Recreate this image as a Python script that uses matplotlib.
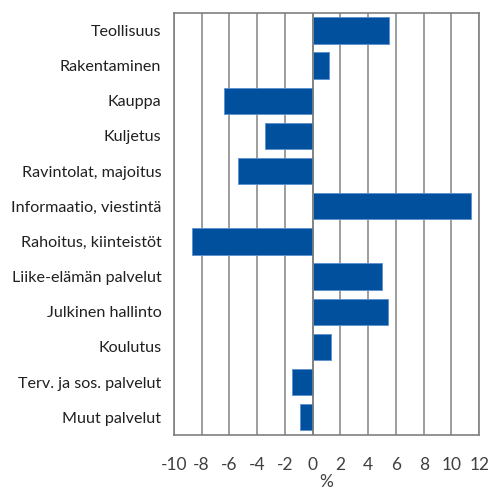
import matplotlib.pyplot as plt
import numpy as np

categories = ['Teollisuus', 'Rakentaminen', 'Kauppa', 'Kuljetus', 'Ravintolat, majoitus',
              'Informaatio, viestintä', 'Rahoitus, kiinteistöt', 'Liike-elämän palvelut',
              'Julkinen hallinto', 'Koulutus', 'Terv. ja sos. palvelut', 'Muut palvelut']
values = [5.5, 1.2, -6.4, -3.4, -5.4, 11.4, -8.7, 5.0, 5.4, 1.3, -1.5, -0.9]
xticks = list(range(-10, 13, 2))

plt.rcParams['font.family'] = ['Lato', 'DejaVu Sans']

fig = plt.figure(figsize=(4.91, 4.93), dpi=100)
ax = fig.add_axes([0.354, 0.118, 0.622, 0.856])

y = np.arange(len(categories))
ax.barh(y, values, height=0.75, color='#00509E', edgecolor='#5B8FD0', linewidth=0.6, zorder=3)
ax.set_ylim(len(categories) - 0.5, -0.5)
ax.set_xlim(-10, 12)
ax.set_xticks(xticks)
ax.set_xticklabels([str(t) for t in xticks], fontsize=12.5, color='#404040')
ax.set_yticks(y)
ax.set_yticklabels(categories, fontsize=11.6, color='#202020')
ax.tick_params(axis='y', length=0, pad=9)
ax.tick_params(axis='x', length=0, pad=16)
ax.grid(axis='x', color='#8C8C8C', linewidth=1.2, zorder=0)
ax.axvline(0, color='#808080', linewidth=1.2, zorder=4)
for s in ax.spines.values():
    s.set_color('#808080')
    s.set_linewidth(1.2)
ax.set_xlabel('%', fontsize=12.5, color='#404040', labelpad=1)

fig.savefig('out.png', dpi=100)
